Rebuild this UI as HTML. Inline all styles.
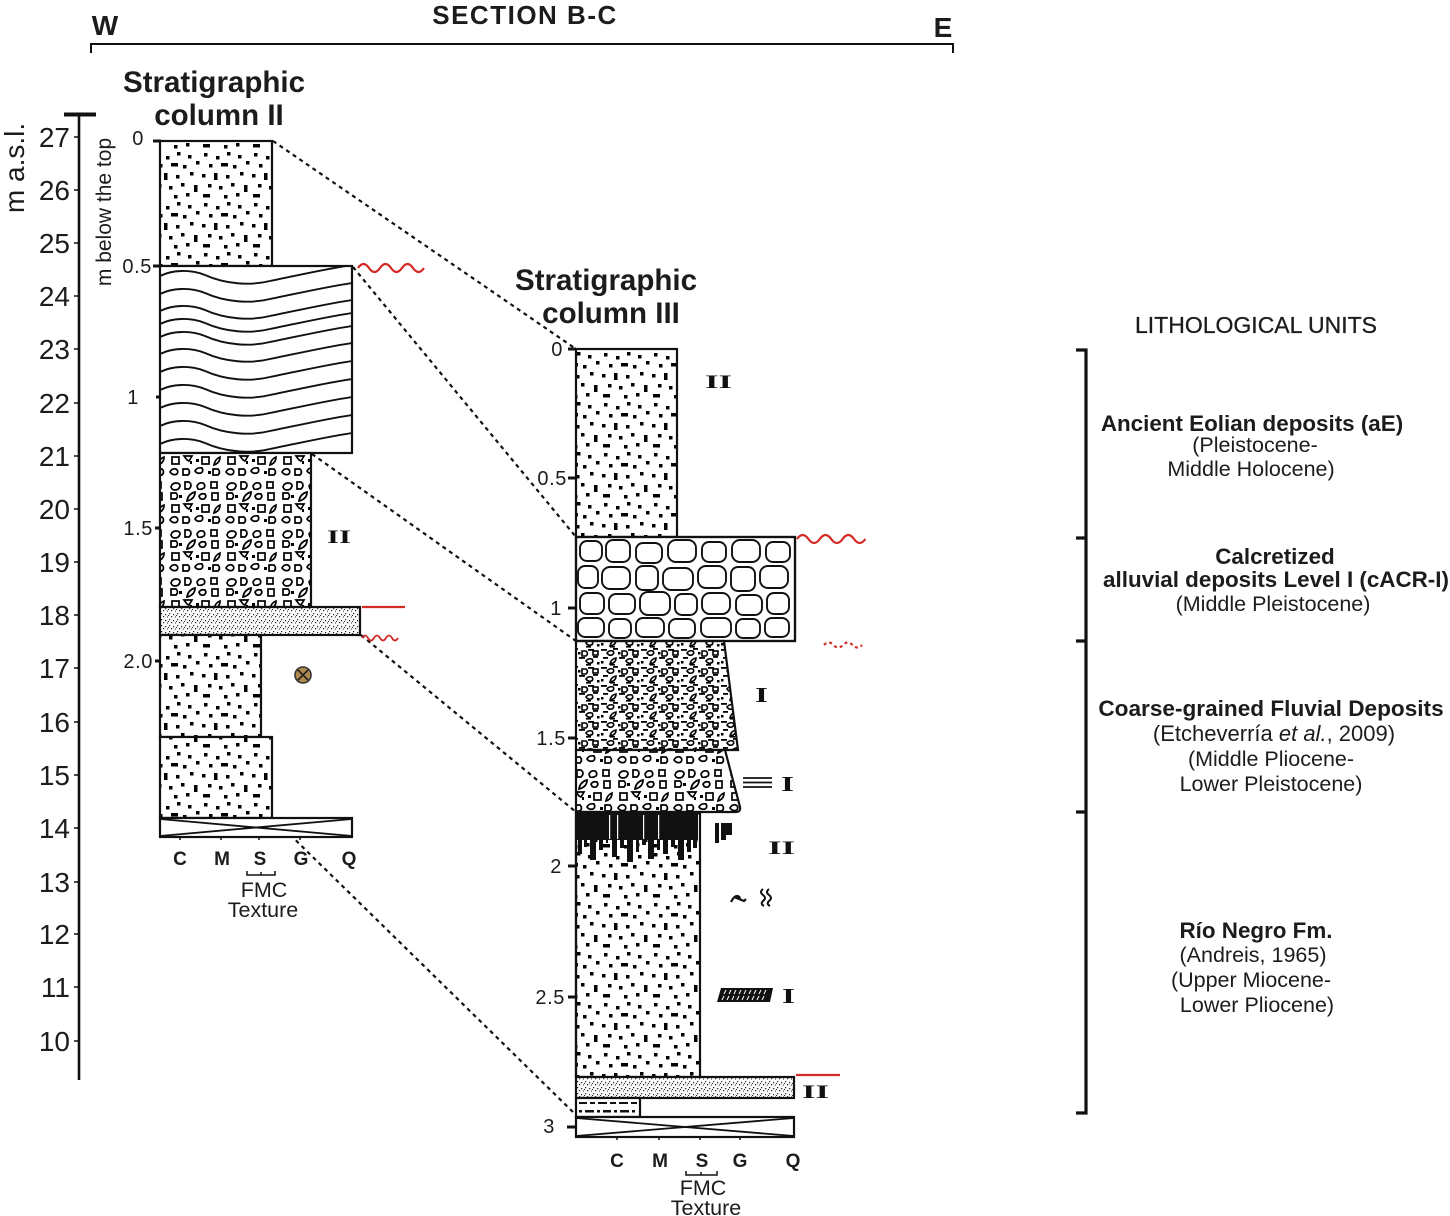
<!DOCTYPE html>
<html><head><meta charset="utf-8"><style>
html,body{margin:0;padding:0;background:#fff;}
svg{display:block;}
text{font-family:"Liberation Sans",Arial,sans-serif;fill:#1c1c1c;}
.rn{font-family:"Liberation Serif",serif;fill:#111;font-weight:bold;}
.b{font-weight:bold;}
</style></head><body>
<svg width="1450" height="1216" viewBox="0 0 1450 1216" xmlns="http://www.w3.org/2000/svg">
<defs>
 <pattern id="sand" width="50" height="50" patternUnits="userSpaceOnUse">
  <rect width="50" height="50" fill="#fff"/>
  <g fill="#000">
   <rect x="4" y="3" width="3.5" height="3.5"/><rect x="16" y="6" width="3.5" height="3.5"/><rect x="27" y="2" width="3.5" height="3.5"/><rect x="38" y="5" width="3.5" height="3.5"/><rect x="46" y="11" width="3.5" height="3.5"/>
   <rect x="9" y="14" width="3.5" height="3.5"/><rect x="21" y="13" width="7" height="3.5"/><rect x="33" y="15" width="3.5" height="3.5"/>
   <rect x="2" y="24" width="3.5" height="3.5"/><rect x="14" y="23" width="3.5" height="7"/><rect x="26" y="25" width="3.5" height="3.5"/><rect x="40" y="22" width="3.5" height="3.5"/>
   <rect x="8" y="34" width="3.5" height="3.5"/><rect x="19" y="36" width="3.5" height="3.5"/><rect x="31" y="33" width="3.5" height="3.5"/><rect x="44" y="35" width="3.5" height="7"/>
   <rect x="3" y="44" width="7" height="3.5"/><rect x="24" y="45" width="3.5" height="3.5"/><rect x="36" y="43" width="3.5" height="3.5"/>
  </g>
 </pattern>
 <pattern id="stip" width="8" height="6" patternUnits="userSpaceOnUse">
  <rect width="8" height="6" fill="#fafafa"/>
  <g fill="#222"><rect x="1" y="1" width="1.2" height="1.2"/><rect x="5" y="2" width="1.2" height="1.2"/><rect x="3" y="4" width="1.2" height="1.2"/><rect x="7" y="4.5" width="1" height="1"/><rect x="0" y="3" width="1" height="1"/></g>
 </pattern>
 <pattern id="grav" width="56" height="48" patternUnits="userSpaceOnUse">
  <rect width="56" height="48" fill="#fff"/>
  <g fill="#fff" stroke="#000" stroke-width="1.7">
   <path d="M3,7 q1,-4 5,-4 q4,0 4,3 q-1,4 -5,4 q-3,0 -4,-3z"/>
   <path d="M17,2 h4 q4,3 0,7 h-4z"/>
   <path d="M29,6 q2,-4 6,-3 q3,2 1,5 q-3,2 -6,1z"/>
   <rect x="43" y="2" width="6" height="6"/>
   <path d="M3,13 h5 q3,3 0,6 h-5z"/>
   <path d="M19,21 q1,-7 8,-9 q0,7 -8,9z"/>
   <path d="M31,16 q2,-3 6,-2 q2,3 -1,5 q-4,1 -5,-3z"/>
   <rect x="44" y="13" width="6" height="7"/>
   <rect x="4" y="25" width="7" height="7"/>
   <path d="M16,24 h8 l-3,5 l-2,-1z"/>
   <rect x="34" y="25" width="7" height="7"/>
   <path d="M46,33 q1,-6 6,-8 q0,6 -6,8z"/>
   <path d="M2,40 q2,-4 6,-3 q3,2 1,5 q-4,2 -7,-2z"/>
   <path d="M15,37 h5 q3,3 0,6 h-5z"/>
   <path d="M27,39 q2,-4 7,-3 q2,3 -1,5 q-4,1 -6,-2z"/>
   <path d="M45,37 h5 q3,3 0,6 h-5z"/>
  </g>
  <g fill="#000"><rect x="11" y="15" width="3" height="3"/><rect x="28" y="27" width="3" height="3"/><rect x="40" y="39" width="3" height="3"/><rect x="22" y="29" width="2" height="3"/></g>
 </pattern>
 <pattern id="gravd" width="40" height="18" patternUnits="userSpaceOnUse">
  <rect width="40" height="18" fill="#fff"/>
  <g fill="#000">
   <rect x="1" y="1" width="6" height="1.8"/><rect x="13" y="0" width="5" height="1.8"/><rect x="28" y="1" width="6" height="1.8"/>
   <rect x="3" y="9" width="5" height="1.8"/><rect x="19" y="9" width="6" height="1.8"/><rect x="33" y="8" width="5" height="1.8"/>
   <rect x="1" y="13" width="2.5" height="2.5"/><rect x="37" y="14" width="2.5" height="2.5"/><rect x="18" y="4" width="2.5" height="2.5"/>
   <rect x="10" y="16" width="5" height="1.6"/><rect x="26" y="16" width="5" height="1.6"/>
  </g>
  <g fill="#fff" stroke="#000" stroke-width="1.6">
   <path d="M7,5 q2,-3 6,-2 q2,2 -1,4 q-3,1 -5,-2z"/>
   <path d="M22,3 h4 q3,2.5 0,5 h-4z"/>
   <rect x="33" y="3" width="5" height="4"/>
   <path d="M10,16 q1,-5 6,-6 q0,5 -6,6z"/>
   <path d="M26,13 q2,-3 6,-2 q2,3 -1,4 q-3,1 -5,-2z"/>
  </g>
 </pattern>
 <clipPath id="clipw"><rect x="161" y="267" width="190" height="185"/></clipPath>
</defs>

<!-- Top section line -->
<text x="525" y="24" text-anchor="middle" class="b" font-size="26" letter-spacing="1.5">SECTION B-C</text>
<text x="105" y="35" text-anchor="middle" class="b" font-size="28">W</text>
<text x="943" y="37" text-anchor="middle" class="b" font-size="28">E</text>
<path d="M91,53 V44 H953 V53" fill="none" stroke="#111" stroke-width="2"/>

<!-- Left axis -->
<line x1="79" y1="113" x2="79" y2="1080" stroke="#111" stroke-width="2.6"/>
<line x1="64" y1="114.5" x2="96" y2="114.5" stroke="#111" stroke-width="4"/>
<g stroke="#111" stroke-width="1.5">
 <line x1="74" y1="137" x2="79" y2="137"/><line x1="74" y1="190" x2="79" y2="190"/><line x1="74" y1="243" x2="79" y2="243"/><line x1="74" y1="296" x2="79" y2="296"/><line x1="74" y1="349" x2="79" y2="349"/><line x1="74" y1="403" x2="79" y2="403"/><line x1="74" y1="456" x2="79" y2="456"/><line x1="74" y1="509" x2="79" y2="509"/><line x1="74" y1="562" x2="79" y2="562"/><line x1="74" y1="615" x2="79" y2="615"/><line x1="74" y1="668" x2="79" y2="668"/><line x1="74" y1="722" x2="79" y2="722"/><line x1="74" y1="775" x2="79" y2="775"/><line x1="74" y1="828" x2="79" y2="828"/><line x1="74" y1="882" x2="79" y2="882"/><line x1="74" y1="934" x2="79" y2="934"/><line x1="74" y1="987" x2="79" y2="987"/><line x1="74" y1="1041" x2="79" y2="1041"/>
</g>
<g font-size="28" text-anchor="end">
 <text x="70" y="147">27</text><text x="70" y="200">26</text><text x="70" y="253">25</text><text x="70" y="306">24</text><text x="70" y="359">23</text><text x="70" y="413">22</text><text x="70" y="466">21</text><text x="70" y="519">20</text><text x="70" y="572">19</text><text x="70" y="625">18</text><text x="70" y="678">17</text><text x="70" y="732">16</text><text x="70" y="785">15</text><text x="70" y="838">14</text><text x="70" y="892">13</text><text x="70" y="944">12</text><text x="70" y="997">11</text><text x="70" y="1051">10</text>
</g>
<text transform="translate(24,168) rotate(-90)" text-anchor="middle" font-size="28">m a.s.l.</text>
<text transform="translate(111,212) rotate(-90)" text-anchor="middle" font-size="21">m below the top</text>

<!-- Column II title -->
<text x="214" y="92" text-anchor="middle" class="b" font-size="29.5">Stratigraphic</text>
<text x="219" y="125" text-anchor="middle" class="b" font-size="29.5">column II</text>

<!-- Column II depth scale -->
<g font-size="20" text-anchor="end" fill="#222" letter-spacing="0.6">
 <text x="144" y="145">0</text><text x="152" y="273">0.5</text><text x="139" y="404">1</text><text x="153" y="535">1.5</text><text x="153" y="668">2.0</text>
</g>
<g stroke="#111" stroke-width="3">
 <line x1="153" y1="141" x2="161" y2="141"/><line x1="153" y1="266" x2="161" y2="266"/><line x1="156" y1="397" x2="161" y2="397"/><line x1="155" y1="528" x2="161" y2="528"/><line x1="155" y1="661" x2="161" y2="661"/>
</g>

<!-- Dashed correlation lines -->
<g stroke="#111" stroke-width="2.2" stroke-dasharray="4 4" fill="none">
 <line x1="273" y1="141" x2="576" y2="349"/>
 <line x1="353" y1="267" x2="576" y2="537"/>
 <line x1="312" y1="454" x2="576" y2="641"/>
 <line x1="361" y1="635" x2="576" y2="812"/>
 <line x1="273" y1="818" x2="575" y2="1114"/>
</g>

<!-- Column II layers -->
<g stroke="#111" stroke-width="2.2">
 <rect x="160" y="141" width="112" height="125" fill="url(#sand)"/>
 <rect x="160" y="266" width="192" height="187" fill="#fff"/>
 <rect x="160" y="453" width="151" height="154" fill="url(#grav)"/>
 <rect x="160" y="607" width="200" height="28" fill="url(#stip)"/>
 <rect x="160" y="635" width="101" height="102" fill="url(#sand)"/>
 <rect x="160" y="737" width="112" height="81" fill="url(#sand)"/>
 <rect x="160" y="818" width="192" height="19" fill="#fff"/>
</g>
<g clip-path="url(#clipw)" fill="none" stroke="#111" stroke-width="1.9">
 <path d="M160,276 C172,270 190,269 205,275 C225,284 250,286 270,281 C295,276 325,269 352,265"/>
 <path d="M160,294 C172,288 190,287 205,293 C225,302 250,304 270,299 C295,294 325,287 352,283"/>
 <path d="M160,311 C172,305 190,304 205,310 C225,319 250,321 270,316 C295,311 325,304 352,300"/>
 <path d="M160,324 C172,318 190,317 205,323 C225,332 250,334 270,329 C295,324 325,317 352,313"/>
 <path d="M160,337 C172,331 190,330 205,336 C225,345 250,347 270,342 C295,337 325,330 352,326"/>
 <path d="M160,354 C172,348 190,347 205,353 C225,362 250,364 270,359 C295,354 325,347 352,343"/>
 <path d="M160,372 C172,366 190,365 205,371 C225,380 250,382 270,377 C295,372 325,365 352,361"/>
 <path d="M160,390 C172,384 190,383 205,389 C225,398 250,400 270,395 C295,390 325,383 352,379"/>
 <path d="M160,408 C172,402 190,401 205,407 C225,416 250,418 270,413 C295,408 325,401 352,397"/>
 <path d="M160,426 C172,420 190,419 205,425 C225,434 250,436 270,431 C295,426 325,419 352,415"/>
 <path d="M160,444 C172,438 190,437 205,443 C225,452 250,454 270,449 C295,444 325,437 352,433"/>
</g>
<g stroke="#111" stroke-width="1.8">
 <line x1="160" y1="819" x2="352" y2="836"/><line x1="160" y1="836" x2="352" y2="819"/>
</g>
<g stroke="#111" stroke-width="1.5">
 <line x1="180" y1="837" x2="180" y2="840"/><line x1="221" y1="837" x2="221" y2="840"/><line x1="259" y1="837" x2="259" y2="840"/><line x1="300" y1="837" x2="300" y2="840"/>
</g>

<!-- Column II symbols -->
<text x="327" y="543" class="rn" font-size="19" textLength="24" lengthAdjust="spacingAndGlyphs">II</text>
<circle cx="303" cy="675" r="8" fill="#b38a4e" stroke="#333" stroke-width="1.6"/>
<path d="M298,670 L308,680 M308,670 L298,680" stroke="#222" stroke-width="1.6"/>
<g fill="none" stroke="#d22b26" stroke-width="2.2">
 <path d="M358,268 q5.5,-8 11,0 t11,0 t11,0 t11,0 t11,0 t11,0"/>
 <line x1="362" y1="607" x2="405" y2="607"/>
 <path d="M362,638 q3,-5 6,0 t6,0 t6,0 t6,0 t6,0 t6,0" stroke-width="1.8"/>
</g>

<!-- Column II texture axis -->
<g font-size="19" text-anchor="middle">
 <text x="180" y="865" class="b">C</text><text x="222" y="865" class="b">M</text><text x="260" y="865" class="b">S</text><text x="301" y="865" class="b">G</text><text x="349" y="865" class="b">Q</text>
</g>
<path d="M247,871 V875 H275 V871 M261,875 V872" fill="none" stroke="#111" stroke-width="1.5"/>
<text x="264" y="897" text-anchor="middle" font-size="21.5">FMC</text>
<text x="263" y="917" text-anchor="middle" font-size="21.5">Texture</text>

<!-- Column III title -->
<text x="606" y="290" text-anchor="middle" class="b" font-size="29.5">Stratigraphic</text>
<text x="611" y="323" text-anchor="middle" class="b" font-size="29.5">column III</text>

<!-- Column III depth scale -->
<g font-size="20" text-anchor="end" fill="#222" letter-spacing="0.6">
 <text x="563" y="356">0</text><text x="567" y="485">0.5</text><text x="562" y="615">1</text><text x="566" y="745">1.5</text><text x="562" y="873">2</text><text x="565" y="1004">2.5</text><text x="555" y="1133">3</text>
</g>
<g stroke="#111" stroke-width="3">
 <line x1="568" y1="349" x2="576" y2="349"/><line x1="568" y1="478" x2="576" y2="478"/><line x1="568" y1="608" x2="576" y2="608"/><line x1="568" y1="738" x2="576" y2="738"/><line x1="568" y1="866" x2="576" y2="866"/><line x1="568" y1="997" x2="576" y2="997"/><line x1="567" y1="1127" x2="576" y2="1127"/>
</g>

<!-- Column III layers -->
<g stroke="#111" stroke-width="2.2">
 <rect x="576" y="349" width="101" height="188" fill="url(#sand)"/>
 <rect x="576" y="537" width="219" height="104" fill="#fff"/>
 <path d="M576,641 H724 L738,750 H576 Z" fill="url(#gravd)"/>
 <path d="M576,750 H725 L740,807 Q741,812 736,812 H576 Z" fill="url(#grav)"/>
 <rect x="576" y="812" width="124" height="265" fill="url(#sand)"/>
 <rect x="576" y="1077" width="218" height="21" fill="url(#stip)"/>
 <rect x="576" y="1098" width="64" height="19" fill="#fff"/>
 <rect x="576" y="1117" width="218" height="20" fill="#fff"/>
</g>
<!-- calcrete cobbles -->
<g fill="#fff" stroke="#111" stroke-width="1.9">
 <rect x="580" y="541" width="22" height="20" rx="7"/><rect x="606" y="540" width="24" height="22" rx="7"/><rect x="636" y="543" width="26" height="20" rx="7"/><rect x="668" y="540" width="28" height="22" rx="8"/><rect x="702" y="542" width="24" height="20" rx="7"/><rect x="732" y="540" width="28" height="22" rx="8"/><rect x="766" y="542" width="24" height="20" rx="7"/>
 <rect x="578" y="566" width="20" height="22" rx="7"/><rect x="602" y="567" width="28" height="22" rx="8"/><rect x="636" y="566" width="22" height="24" rx="7"/><rect x="663" y="568" width="30" height="22" rx="8"/><rect x="698" y="566" width="28" height="22" rx="8"/><rect x="731" y="567" width="24" height="24" rx="7"/><rect x="760" y="566" width="28" height="22" rx="8"/>
 <rect x="580" y="593" width="24" height="21" rx="7"/><rect x="609" y="594" width="26" height="20" rx="7"/><rect x="640" y="592" width="30" height="23" rx="8"/><rect x="675" y="594" width="22" height="21" rx="7"/><rect x="702" y="593" width="28" height="21" rx="8"/><rect x="736" y="595" width="26" height="20" rx="7"/><rect x="767" y="593" width="22" height="21" rx="7"/>
 <rect x="578" y="618" width="26" height="19" rx="7"/><rect x="609" y="619" width="22" height="19" rx="7"/><rect x="636" y="618" width="28" height="19" rx="7"/><rect x="669" y="619" width="26" height="19" rx="7"/><rect x="701" y="618" width="30" height="19" rx="7"/><rect x="736" y="619" width="24" height="19" rx="7"/><rect x="765" y="618" width="24" height="19" rx="7"/>
</g>
<rect x="576" y="537" width="219" height="104" fill="none" stroke="#111" stroke-width="2.2"/>
<!-- black crust with drips -->
<g fill="#111">
 <rect x="577" y="812" width="121" height="28"/>
 <rect x="578" y="838" width="4" height="16"/><rect x="584" y="838" width="3" height="9"/><rect x="590" y="838" width="6" height="22"/><rect x="599" y="838" width="4" height="12"/><rect x="606" y="838" width="2" height="5"/><rect x="612" y="838" width="5" height="19"/><rect x="620" y="838" width="4" height="10"/><rect x="627" y="838" width="6" height="24"/><rect x="636" y="838" width="3" height="14"/><rect x="642" y="838" width="4" height="7"/><rect x="648" y="838" width="6" height="21"/><rect x="657" y="838" width="3" height="12"/><rect x="663" y="838" width="5" height="16"/><rect x="671" y="838" width="4" height="9"/><rect x="678" y="838" width="6" height="22"/><rect x="687" y="838" width="4" height="14"/><rect x="693" y="838" width="4" height="10"/>
</g>
<g fill="#fff"><rect x="609" y="815" width="1.2" height="24"/><rect x="617" y="815" width="1.2" height="24"/><rect x="643" y="815" width="1.2" height="24"/><rect x="658" y="815" width="1.2" height="24"/></g>
<line x1="576" y1="812" x2="576" y2="1077" stroke="#111" stroke-width="2.2"/>
<!-- silt dashes -->
<g fill="#111">
 <rect x="579" y="1102" width="8" height="2"/><rect x="590" y="1102" width="5" height="2"/><rect x="598" y="1102" width="9" height="2"/><rect x="610" y="1102" width="6" height="2"/><rect x="619" y="1102" width="9" height="2"/><rect x="631" y="1102" width="6" height="2"/>
 <rect x="579" y="1110" width="3" height="2.5"/><rect x="585" y="1110" width="9" height="2.5"/><rect x="597" y="1110" width="3" height="2.5"/><rect x="603" y="1110" width="8" height="2.5"/><rect x="614" y="1110" width="3" height="2.5"/><rect x="620" y="1110" width="9" height="2.5"/><rect x="632" y="1110" width="3" height="2.5"/>
</g>
<g stroke="#111" stroke-width="1.8">
 <line x1="576" y1="1118" x2="794" y2="1136"/><line x1="576" y1="1136" x2="794" y2="1118"/>
</g>
<g stroke="#111" stroke-width="1.5">
 <line x1="617" y1="1137" x2="617" y2="1140"/><line x1="659" y1="1137" x2="659" y2="1140"/><line x1="700" y1="1137" x2="700" y2="1140"/><line x1="740" y1="1137" x2="740" y2="1140"/>
</g>

<!-- Column III symbols -->
<text x="705" y="388" class="rn" font-size="19" textLength="27" lengthAdjust="spacingAndGlyphs">II</text>
<text x="755" y="702" class="rn" font-size="21" textLength="13" lengthAdjust="spacingAndGlyphs">I</text>
<g stroke="#111" stroke-width="1.7"><line x1="743" y1="778" x2="772" y2="778"/><line x1="743" y1="782.5" x2="772" y2="782.5"/><line x1="743" y1="787" x2="772" y2="787"/></g>
<text x="781" y="791" class="rn" font-size="21" textLength="13" lengthAdjust="spacingAndGlyphs">I</text>
<g fill="#111"><rect x="715" y="823" width="4" height="20"/><rect x="721" y="823" width="11" height="12"/><rect x="721" y="835" width="5" height="5"/></g>
<text x="768" y="854" class="rn" font-size="19" textLength="27" lengthAdjust="spacingAndGlyphs">II</text>
<path d="M731,902 q3,-6 6,-6 q3,0 3,4 M734,897 l10,4 l2,-2" fill="none" stroke="#111" stroke-width="2.2"/>
<path d="M763,889 q-4,3 0,6 q4,3 0,6 q-3,3 1,5 M769,889 q-4,3 0,6 q4,3 0,6 q-3,3 1,5" fill="none" stroke="#111" stroke-width="2"/>
<path d="M721,988 H773 L770,1002 H717 Z" fill="#111"/>
<g stroke="#fff" stroke-width="1"><path d="M724,994 l2,-4 M729,994 l2,-4 M734,994 l2,-4 M739,994 l2,-4 M744,994 l2,-4 M749,994 l2,-4 M754,994 l2,-4 M759,994 l2,-4 M764,994 l2,-4 M722,1000 l2,-4 M727,1000 l2,-4 M732,1000 l2,-4 M737,1000 l2,-4 M742,1000 l2,-4 M747,1000 l2,-4 M752,1000 l2,-4 M757,1000 l2,-4 M762,1000 l2,-4"/></g>
<text x="782" y="1003" class="rn" font-size="21" textLength="13" lengthAdjust="spacingAndGlyphs">I</text>
<text x="802" y="1098" class="rn" font-size="19" textLength="27" lengthAdjust="spacingAndGlyphs">II</text>
<g fill="none" stroke="#d22b26" stroke-width="2.2">
 <path d="M797,539 q5.7,-8 11.4,0 t11.4,0 t11.4,0 t11.4,0 t11.4,0 t11.4,0"/>
 <path d="M824,645 q4.7,-5 9.5,0 t9.5,0 t9.5,0 t9.5,0" stroke-dasharray="3 3"/>
 <line x1="796" y1="1075" x2="840" y2="1075"/>
</g>

<!-- Column III texture axis -->
<g font-size="19" text-anchor="middle">
 <text x="617" y="1167" class="b">C</text><text x="660" y="1167" class="b">M</text><text x="702" y="1167" class="b">S</text><text x="740" y="1167" class="b">G</text><text x="793" y="1167" class="b">Q</text>
</g>
<path d="M686,1171 V1175 H717 V1171 M701,1175 V1172" fill="none" stroke="#111" stroke-width="1.5"/>
<text x="703" y="1195" text-anchor="middle" font-size="21.5">FMC</text>
<text x="706" y="1215" text-anchor="middle" font-size="21.5">Texture</text>

<!-- Legend -->
<text x="1256" y="333" text-anchor="middle" font-size="23" stroke="#1c1c1c" stroke-width="0.3">LITHOLOGICAL UNITS</text>
<path d="M1076,350 H1086 V1113 H1076 M1076,538 H1086 M1076,641 H1086 M1076,812 H1086" fill="none" stroke="#111" stroke-width="3.2"/>
<g text-anchor="middle">
 <text x="1252" y="431" font-size="22.4" class="b">Ancient Eolian deposits (aE)</text>
 <text x="1255" y="452" font-size="21.5">(Pleistocene-</text>
 <text x="1251" y="476" font-size="21.5">Middle Holocene)</text>
 <text x="1275" y="564" font-size="22.4" class="b">Calcretized</text>
 <text x="1276" y="587" font-size="22.4" class="b">alluvial deposits Level  I (cACR-I)</text>
 <text x="1273" y="611" font-size="21.5">(Middle Pleistocene)</text>
 <text x="1271" y="716" font-size="22.6" class="b">Coarse-grained Fluvial Deposits</text>
 <text x="1274" y="741" font-size="22">(Etcheverría <tspan font-style="italic">et al.</tspan>, 2009)</text>
 <text x="1271" y="766" font-size="21.5">(Middle Pliocene-</text>
 <text x="1271" y="791" font-size="21.5">Lower Pleistocene)</text>
 <text x="1256" y="938" font-size="22.4" class="b">Río Negro Fm.</text>
 <text x="1253" y="962" font-size="21.5">(Andreis, 1965)</text>
 <text x="1251" y="987" font-size="21.5">(Upper Miocene-</text>
 <text x="1257" y="1012" font-size="21.5">Lower Pliocene)</text>
</g>
</svg>
</body></html>
